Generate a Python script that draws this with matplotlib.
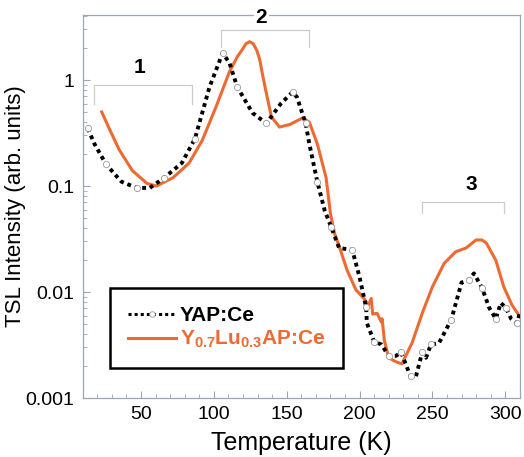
import matplotlib
matplotlib.use("Agg")
import matplotlib.pyplot as plt
import numpy as np

plt.rcParams['font.family'] = ['Liberation Sans', 'DejaVu Sans']
plt.rcParams['mathtext.fontset'] = 'custom'
plt.rcParams['mathtext.rm'] = 'Liberation Sans'
plt.rcParams['mathtext.bf'] = 'Liberation Sans:bold'

# YAP:Ce (black dotted)
yap_T = [13.4, 18, 26, 36.5, 47, 56, 66, 78, 87, 97, 106, 110.7, 116, 126.5, 136, 146, 154,
         157, 163, 165.5, 171, 176, 180.5, 186, 195, 200, 204.5, 205, 210, 215, 220, 225,
         228.5, 230.5, 235, 238.7, 243, 245.6, 249, 254.5, 263, 270, 275, 278.5, 284, 289,
         293.5, 297, 300.4, 304, 308, 310]
yap_I = [0.35, 0.25, 0.16, 0.11, 0.096, 0.096, 0.12, 0.165, 0.28, 0.86, 1.8, 1.45, 0.86, 0.49,
         0.39, 0.6, 0.77, 0.69, 0.39, 0.25, 0.11, 0.059, 0.041, 0.026, 0.025, 0.0138, 0.0072,
         0.0051, 0.0034, 0.0032, 0.0025, 0.0025, 0.0027, 0.0023, 0.0016, 0.0016, 0.0027, 0.0024,
         0.0032, 0.0033, 0.0055, 0.0123, 0.013, 0.015, 0.011, 0.0071, 0.0056, 0.0079, 0.0071,
         0.0056, 0.0051, 0.0063]

# Y0.7Lu0.3AP:Ce (orange)
ylu_T = [23, 28.5, 35, 44, 54, 60.5, 72, 83, 92, 101.5, 110.7, 116, 119.6, 122, 124.5, 127,
         129.5, 131.5, 133, 136, 139.5, 145, 152, 161, 165.5, 171, 177, 180, 183, 186, 191.5,
         197.5, 203, 206, 208, 209, 212, 215, 215.5, 217, 220, 225, 229, 236, 243, 250, 258,
         266, 273, 280, 284, 287, 293.5, 299, 304.5, 309.5]
ylu_I = [0.5, 0.34, 0.22, 0.14, 0.106, 0.1, 0.12, 0.165, 0.27, 0.56, 1.2, 1.65, 1.95, 2.2,
         2.3, 2.2, 1.9, 1.55, 1.2, 0.75, 0.45, 0.36, 0.38, 0.44, 0.4, 0.25, 0.12, 0.055, 0.035,
         0.027, 0.016, 0.0105, 0.0087, 0.0075, 0.0087, 0.0062, 0.0063, 0.0052, 0.0056, 0.0035,
         0.0024, 0.0022, 0.0021, 0.0033, 0.0063, 0.0112, 0.0186, 0.024, 0.026, 0.031, 0.031,
         0.029, 0.02, 0.0112, 0.0076, 0.006]

x_ticks = [50, 100, 150, 200, 250, 300]
y_ticks = [0.001, 0.01, 0.1, 1]
y_ticklabels = ['0.001', '0.01', '0.1', '1']

# peak-region brackets: (label, T start, T end, bracket level, end-tick level, label T, label level)
brackets = [('1', 18, 85, 0.9, 0.6, 49, 1.3),
            ('2', 105, 165.5, 2.95, 2.05, 132.6, 3.85),
            ('3', 243, 299, 0.07, 0.056, 276.5, 0.104)]

orange = '#ee6a33'
spine_col = '#9aa6b6'

fig = plt.figure(figsize=(5.24, 4.57), dpi=100)
ax = fig.add_axes([0.158, 0.129, 0.834, 0.838])

ax.plot(yap_T, yap_I, color='black', linestyle=(0, (1, 1)), lw=2.8, zorder=3)
ax.plot(yap_T[::2], yap_I[::2], linestyle='none', marker='o', ms=4.5, mfc='white',
        mec='#999999', mew=0.6, zorder=4)
ax.plot(ylu_T, ylu_I, color=orange, lw=2.2, zorder=2)

for lab, t0, t1, yl, ye, tl, ylab in brackets:
    ax.plot([t0, t0, t1, t1], [ye, yl, yl, ye], color='#cccccc', lw=0.9, zorder=1, clip_on=False)
    ax.text(tl, ylab, lab, ha='center', va='center', fontsize=15, fontweight='bold',
            zorder=5, clip_on=False,
            bbox=dict(facecolor='white', edgecolor='none', pad=1) if lab == '2' else None)

ax.set_yscale('log')
ax.set_xlim(10, 310)
ax.set_ylim(0.001, 4.1)
ax.set_xticks(x_ticks)
ax.set_xticks(np.arange(20, 310, 10), minor=True)
ax.set_yticks(y_ticks)
ax.set_yticklabels(y_ticklabels)
ax.tick_params(axis='both', which='both', direction='in', color=spine_col, labelsize=14)
ax.tick_params(axis='both', which='major', length=5)
ax.tick_params(axis='both', which='minor', length=3)
ax.tick_params(axis='x', which='major', pad=6)
ax.tick_params(axis='y', which='major', pad=6)
for s in ax.spines.values():
    s.set_color(spine_col)
    s.set_linewidth(0.9)

ax.set_xlabel('Temperature (K)', fontsize=18)
ax.xaxis.set_label_coords(0.5, -0.085)
ax.set_ylabel('TSL Intensity (arb. units)', fontsize=16)
ax.yaxis.set_label_coords(-0.13, 0.5)

h1, = ax.plot([], [], color='black', linestyle=(0, (1, 1)), lw=2.2, marker='o', ms=4,
              mfc='white', mec='#999999', mew=0.6)
h2, = ax.plot([], [], color=orange, lw=2.2)
leg = ax.legend([h1, h2], ['YAP:Ce', r'$\mathbf{Y_{0.7}Lu_{0.3}}$AP:Ce'],
                loc='lower left', bbox_to_anchor=(0.062, 0.078), borderaxespad=0,
                numpoints=1, fancybox=False, edgecolor='black', framealpha=1,
                handlelength=2.3, handletextpad=0.2, borderpad=0.85, labelspacing=0.2,
                prop={'weight': 'bold', 'size': 15})
leg.get_frame().set_linewidth(1.8)
leg.get_texts()[1].set_color(orange)

fig.savefig('out.png', dpi=100)
